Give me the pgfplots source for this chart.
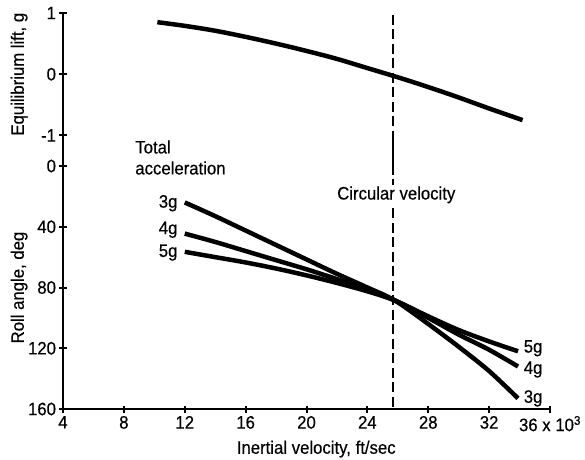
\documentclass[border=0pt]{standalone}
\usepackage{fontspec}
\setmainfont{Liberation Sans}[FakeStretch=0.93, FakeBold=0.4]
\usepackage{pgfplots}
\pgfplotsset{compat=1.18}
\newcommand{\chartfont}{\fontsize{18}{21}\selectfont}
\tikzset{circ/.style={black, line width=2.2pt, dash pattern=on 10pt off 4.5pt}}
\begin{document}
\begin{tikzpicture}[font=\chartfont]
\pgfplotsset{
  every axis/.append style={
    scale only axis, width=487pt,
    axis line style={line width=2pt},
    tick style={line width=2pt, black},
    major tick length=7pt,
    tick align=inside,
    clip=false,
    /pgf/number format/assume math mode=true,
    every tick label/.append style={font=\chartfont},
    label style={font=\chartfont},
  },
  curve/.style={black, line width=4.5pt, smooth, no marks},
}
\path[use as bounding box] (-63pt,-50pt) rectangle (522pt,409pt);
% roll angle (lower)
\begin{axis}[
  at={(0pt,0pt)}, height=243pt,
  xmin=4, xmax=36, ymin=0, ymax=160, y dir=reverse,
  axis x line=bottom, axis y line=left,
  axis line style={-},
  xtick={4,8,...,36},
  xticklabels={4,8,12,16,20,24,28,32,{36 x 10\textsuperscript{3}}},
  ytick={0,40,80,120,160},
  xlabel={Inertial velocity, ft/sec},
  ylabel={Roll angle, deg},
  xlabel style={at={(axis description cs:0.52,-0.165)}, anchor=center},
  ylabel style={at={(axis description cs:-0.09,0.5)}, anchor=center},
]
\addplot[curve] coordinates {(12,24)(14,33)(16,42.5)(18,52)(20,61.5)(22,71)(24,80)(25.8,88.5)(28,104)(30,119)(32,135)(33.9,153)};
\addplot[curve] coordinates {(12,44.5)(14,50)(16,56)(18,62)(20,68)(22,74.5)(24,81.5)(25.8,88.5)(28,100)(30,111)(32,121)(33.9,132)};
\addplot[curve] coordinates {(12,56.5)(14,60)(16,63.5)(18,67.5)(20,72)(22,77)(24,82.5)(25.8,88.5)(28,99)(30,108)(32,115.5)(33.9,122)};
\draw[circ] (axis cs:25.7,-20) -- (axis cs:25.7,160);
\node[fill=white, inner sep=1pt] at (axis cs:25.9,19) {Circular velocity};
\node[anchor=north west, align=left, inner sep=0pt] at (axis cs:8.74,-17) {Total\\acceleration};
\node[anchor=east, inner sep=1pt] at (axis cs:11.6,24.5) {3g};
\node[anchor=east, inner sep=1pt] at (axis cs:11.6,42) {4g};
\node[anchor=east, inner sep=1pt] at (axis cs:11.6,57) {5g};
\node[anchor=west, inner sep=1pt] at (axis cs:34.2,120) {5g};
\node[anchor=west, inner sep=1pt] at (axis cs:34.2,134) {4g};
\node[anchor=west, inner sep=1pt] at (axis cs:34.2,153) {3g};
\end{axis}
% equilibrium lift (upper)
\begin{axis}[
  at={(0pt,243pt)}, height=153pt,
  xmin=4, xmax=36, ymin=-1.5, ymax=1,
  axis x line=none, axis y line=left,
  axis line style={-},
  ytick={-1,0,1},
  ylabel={Equilibrium lift, g},
  ylabel style={at={(axis description cs:-0.09,0.6)}, anchor=center},
]
\addplot[curve] coordinates {(10.2,0.85)(12,0.79)(14,0.71)(16,0.61)(18,0.50)(20,0.38)(22,0.25)(24,0.10)(26,-0.05)(28,-0.21)(30,-0.38)(32,-0.56)(34.2,-0.75)};
\draw[circ] (axis cs:25.7,0.97) -- (axis cs:25.7,-1.5);
\end{axis}
\end{tikzpicture}
\end{document}
